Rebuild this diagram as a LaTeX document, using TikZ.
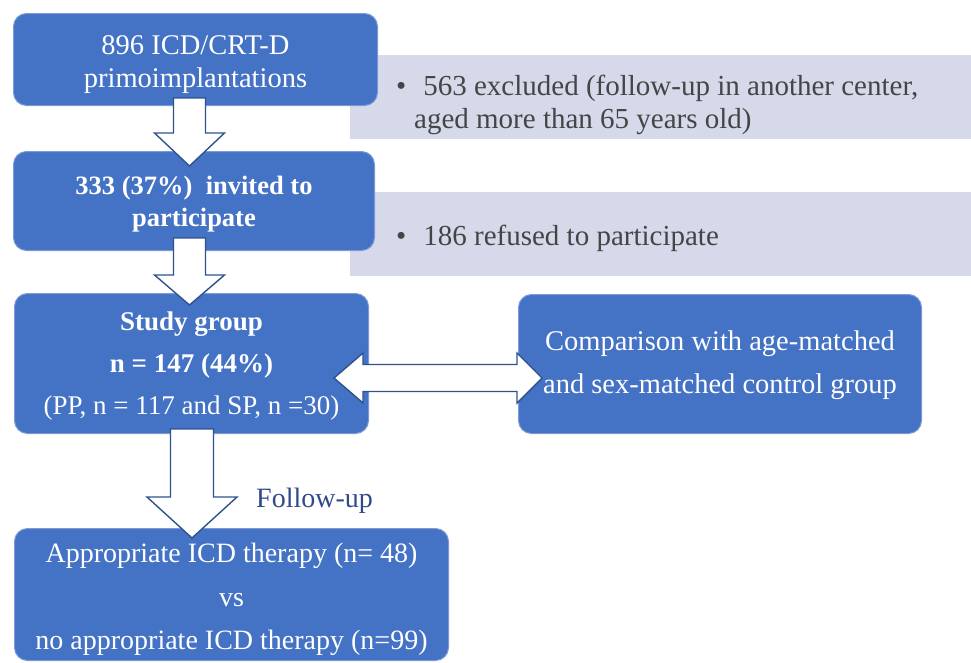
\documentclass[tikz,border=0pt]{standalone}
\usepackage{fontspec}
\setmainfont{Liberation Serif}
\usetikzlibrary{calc}
\definecolor{boxblue}{HTML}{4472C4}
\definecolor{boxedge}{HTML}{7C9BD6}
\definecolor{greybox}{HTML}{D5D9EA}
\definecolor{arrowedge}{HTML}{2F528F}
\definecolor{greytext}{HTML}{454545}
\definecolor{labelblue}{HTML}{2F4A8A}
\begin{document}
\begin{tikzpicture}[x=1pt,y=-1pt,
  bluebox/.style={fill=boxblue, draw=boxedge, line width=1pt, rounded corners=13pt, anchor=north west, inner sep=0pt},
  boxtext/.style={text=white, align=center, inner sep=0pt},
  greyrect/.style={fill=greybox, draw=none, anchor=north west, inner sep=0pt},
  greytxt/.style={text=greytext, align=left, anchor=west, inner sep=0pt, font=\fontsize{29}{33}\selectfont},
  blockarrow/.style={fill=white, draw=arrowedge, line width=1.4pt, line join=miter}]
\useasboundingbox (0,0) rectangle (971,662);
% grey side boxes
\node[greyrect, minimum width=621pt, minimum height=84pt] (g1) at (350,55) {};
\node[greyrect, minimum width=621pt, minimum height=84pt] (g2) at (350,192) {};
\node[greytxt] (g1t) at ($(g1.west)+(46,8)$) {\textbullet\hspace{17pt}563 excluded (follow-up in another center,\\\hspace{18pt}aged more than 65 years old)};
\node[greytxt] (g2t) at ($(g2.west)+(46,4)$) {\textbullet\hspace{17pt}186 refused to participate};
% blue boxes
\node[bluebox, minimum width=364pt, minimum height=92pt] (b1) at (13,13) {};
\node[boxtext, font=\fontsize{28.5}{33}\selectfont] at ($(b1.center)+(0,5)$) {896 ICD/CRT-D\\primoimplantations};
\node[bluebox, minimum width=361pt, minimum height=99pt] (b2) at (13,151) {};
\node[boxtext, font=\fontsize{26.5}{32}\selectfont] at ($(b2.center)+(0,3)$) {\textbf{333 (37\%)~~invited to}\\\textbf{participate}};
\node[bluebox, minimum width=354pt, minimum height=140pt] (b3) at (14,293) {};
\node[boxtext, font=\fontsize{27}{42}\selectfont] at ($(b3.center)+(0,2)$) {\textbf{Study group}\\\textbf{n = 147 (44\%)}\\(PP, n = 117 and SP, n =30)};
\node[bluebox, minimum width=403pt, minimum height=139pt] (b4) at (518,294) {};
\node[boxtext, font=\fontsize{28.5}{43}\selectfont] at ($(b4.center)+(0,1)$) {Comparison with age-matched\\and sex-matched control group};
\node[bluebox, minimum width=434pt, minimum height=132pt] (b5) at (14,528) {};
\node[boxtext, font=\fontsize{28}{43.5}\selectfont] at ($(b5.center)+(0,5)$) {Appropriate ICD therapy (n= 48)\\vs\\no appropriate ICD therapy (n=99)};
% arrow 1
\coordinate (a1top) at ($(b1.south)+(-6,-8)$);
\coordinate (a1tip) at ($(a1top |- b2.north)+(0,15)$);
\draw[blockarrow] ($(a1top)+(-16,0)$) -- ($(a1top)+(16,0)$) -- ($(a1tip)+(16,-33)$) -- ($(a1tip)+(35,-33)$) -- (a1tip) -- ($(a1tip)+(-35,-33)$) -- ($(a1tip)+(-16,-33)$) -- cycle;
% arrow 2
\coordinate (a2top) at ($(b2.south)+(-4.5,-13)$);
\coordinate (a2tip) at ($(a2top |- b3.north)+(0,12)$);
\draw[blockarrow] ($(a2top)+(-16,0)$) -- ($(a2top)+(16,0)$) -- ($(a2tip)+(16,-30)$) -- ($(a2tip)+(35,-30)$) -- (a2tip) -- ($(a2tip)+(-35,-30)$) -- ($(a2tip)+(-16,-30)$) -- cycle;
% arrow 3 (follow-up)
\coordinate (a3top) at ($(b3.south)+(0.5,-5)$);
\coordinate (a3tip) at ($(a3top |- b5.north)+(0,10)$);
\draw[blockarrow] ($(a3top)+(-21.5,0)$) -- ($(a3top)+(21.5,0)$) -- ($(a3tip)+(21.5,-41)$) -- ($(a3tip)+(45,-41)$) -- (a3tip) -- ($(a3tip)+(-45,-41)$) -- ($(a3tip)+(-21.5,-41)$) -- cycle;
\node[text=labelblue, anchor=west, inner sep=0pt, font=\fontsize{28}{33}\selectfont] (fu) at (256,501) {Follow-up};
% double arrow
\coordinate (dl) at ($(b3.east |- 0,378)+(-35,0)$);
\coordinate (dr) at ($(b4.west |- 0,378)+(24,0)$);
\draw[blockarrow] (dl) -- ($(dl)+(29,-25)$) -- ($(dl)+(29,-13.5)$) -- ($(dr)+(-25,-13.5)$) -- ($(dr)+(-25,-25)$) -- (dr) -- ($(dr)+(-25,25)$) -- ($(dr)+(-25,13.5)$) -- ($(dl)+(29,13.5)$) -- ($(dl)+(29,25)$) -- cycle;
\end{tikzpicture}
\end{document}
